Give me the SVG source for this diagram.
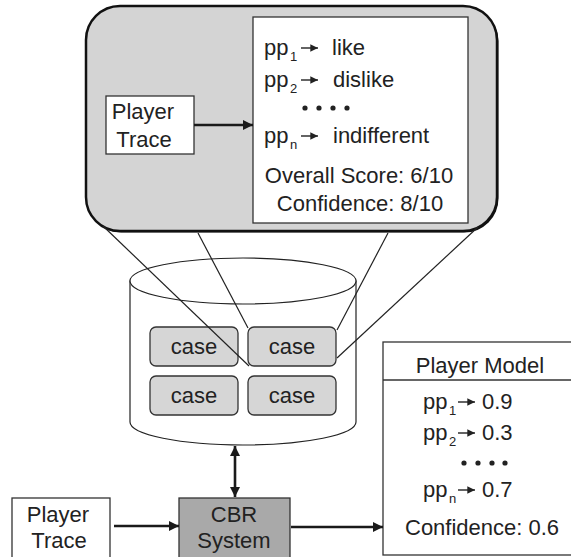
<svg xmlns="http://www.w3.org/2000/svg" width="571" height="557" viewBox="0 0 571 557">
  <defs>
    <marker id="head" viewBox="0 0 10 10" refX="10" refY="5" markerWidth="4" markerHeight="4" orient="auto-start-reverse" markerUnits="strokeWidth">
      <path d="M0,0 L10,5 L0,10 Z" fill="#1a1a1a"/>
    </marker>
    <marker id="tiny" viewBox="0 0 10 10" refX="10" refY="5" markerWidth="6.5" markerHeight="5.5" orient="auto" markerUnits="strokeWidth">
      <path d="M0,0 L10,5 L0,10 Z" fill="#222"/>
    </marker>
  </defs>
  <style>
    text { font-family: "Liberation Sans", Arial, Helvetica, sans-serif; font-size: 22px; fill: #222; }
    .sub { font-size: 13px; }
    .mid { text-anchor: middle; }
    .box { fill: #fff; stroke: #333; stroke-width: 1.3; }
    .case { fill: #d6d6d6; stroke: #333; stroke-width: 1.3; }
    .conn { stroke: #1a1a1a; stroke-width: 2.6; fill: none; marker-end: url(#head); }
    .zoom { stroke: #222; stroke-width: 1.2; fill: none; }
    .tarrow { stroke: #222; stroke-width: 1.4; fill: none; marker-end: url(#tiny); }
    .dot { fill: #222; }
  </style>

  <!-- expanded case: the stored trace and its annotations -->
  <g id="case-detail">
    <rect x="87.5" y="7.5" width="411" height="225" rx="34" fill="#111"/>
    <rect x="86" y="6" width="411" height="225" rx="34" fill="#d4d4d4" stroke="#111" stroke-width="2.5"/>
    <rect x="253" y="17" width="215" height="206" class="box"/>
    <text x="264" y="55">pp</text><text x="290" y="61" class="sub">1</text>
    <path d="M301,48 H318" class="tarrow"/>
    <text x="332" y="55">like</text>
    <text x="264" y="87">pp</text><text x="290" y="93" class="sub">2</text>
    <path d="M301,80 H318" class="tarrow"/>
    <text x="333" y="87">dislike</text>
    <circle cx="305" cy="108" r="2.6" class="dot"/>
    <circle cx="319" cy="108" r="2.6" class="dot"/>
    <circle cx="333" cy="108" r="2.6" class="dot"/>
    <circle cx="347" cy="108" r="2.6" class="dot"/>
    <text x="264" y="143">pp</text><text x="290" y="149" class="sub">n</text>
    <path d="M301,136 H318" class="tarrow"/>
    <text x="333" y="143">indifferent</text>
    <text x="359" y="183" class="mid">Overall Score: 6/10</text>
    <text x="360" y="211" class="mid">Confidence: 8/10</text>
  </g>

  <g id="trace-top">
    <rect x="106" y="96" width="88" height="58" class="box"/>
    <text x="143" y="119" class="mid">Player</text>
    <text x="144" y="147" class="mid">Trace</text>
  </g>

  <!-- case base -->
  <g id="case-base">
    <path d="M130,281 V422 A113,23 0 0 0 356,422 V281 Z" fill="#fff" stroke="#222" stroke-width="1.2"/>
    <ellipse cx="243" cy="281" rx="113" ry="23" fill="#fff" stroke="#222" stroke-width="1.2"/>
  </g>
  <g id="case-1">
    <rect x="150" y="327" width="88" height="39" rx="6" class="case"/>
    <text x="194" y="354" class="mid">case</text>
  </g>
  <g id="case-2">
    <rect x="248" y="327" width="88" height="39" rx="6" class="case"/>
    <text x="292" y="354" class="mid">case</text>
  </g>
  <g id="case-3">
    <rect x="150" y="376" width="88" height="39" rx="6" class="case"/>
    <text x="194" y="403" class="mid">case</text>
  </g>
  <g id="case-4">
    <rect x="248" y="376" width="88" height="39" rx="6" class="case"/>
    <text x="292" y="403" class="mid">case</text>
  </g>

  <g id="trace-bottom">
    <rect x="12" y="498" width="98" height="62" class="box"/>
    <text x="58" y="522" class="mid">Player</text>
    <text x="59" y="548" class="mid">Trace</text>
  </g>

  <g id="cbr">
    <rect x="179" y="498" width="111" height="62" fill="#a9a9a9" stroke="#333" stroke-width="1.3"/>
    <text x="234" y="522" class="mid">CBR</text>
    <text x="234" y="548" class="mid">System</text>
  </g>

  <g id="player-model">
    <rect x="383" y="342" width="200" height="213" class="box"/>
    <line x1="383" y1="380" x2="571" y2="380" stroke="#333" stroke-width="1.3"/>
    <text x="480" y="373" class="mid">Player Model</text>
    <text x="423" y="409">pp</text><text x="449" y="415" class="sub">1</text>
    <path d="M458,402 H475" class="tarrow"/>
    <text x="482" y="409">0.9</text>
    <text x="423" y="440">pp</text><text x="449" y="446" class="sub">2</text>
    <path d="M458,433 H475" class="tarrow"/>
    <text x="482" y="440">0.3</text>
    <circle cx="464" cy="463" r="2.6" class="dot"/>
    <circle cx="478" cy="463" r="2.6" class="dot"/>
    <circle cx="492" cy="463" r="2.6" class="dot"/>
    <circle cx="505" cy="463" r="2.6" class="dot"/>
    <text x="423" y="497">pp</text><text x="449" y="503" class="sub">n</text>
    <path d="M458,490 H475" class="tarrow"/>
    <text x="482" y="497">0.7</text>
    <text x="405" y="535">Confidence: 0.6</text>
  </g>

  <g id="connectors">
    <!-- projection lines from the expanded case down to its stored box -->
    <line x1="103" y1="226" x2="249" y2="366" class="zoom"/>
    <line x1="198" y1="233" x2="248" y2="328" class="zoom"/>
    <line x1="388" y1="233" x2="337" y2="330" class="zoom"/>
    <line x1="478" y1="227" x2="337" y2="358" class="zoom"/>
    <line x1="194" y1="125" x2="253" y2="125" class="conn"/>
    <line x1="235" y1="446" x2="235" y2="497" class="conn" marker-start="url(#head)"/>
    <line x1="114" y1="526" x2="179" y2="526" class="conn"/>
    <line x1="291" y1="527" x2="383" y2="527" class="conn"/>
  </g>
</svg>
